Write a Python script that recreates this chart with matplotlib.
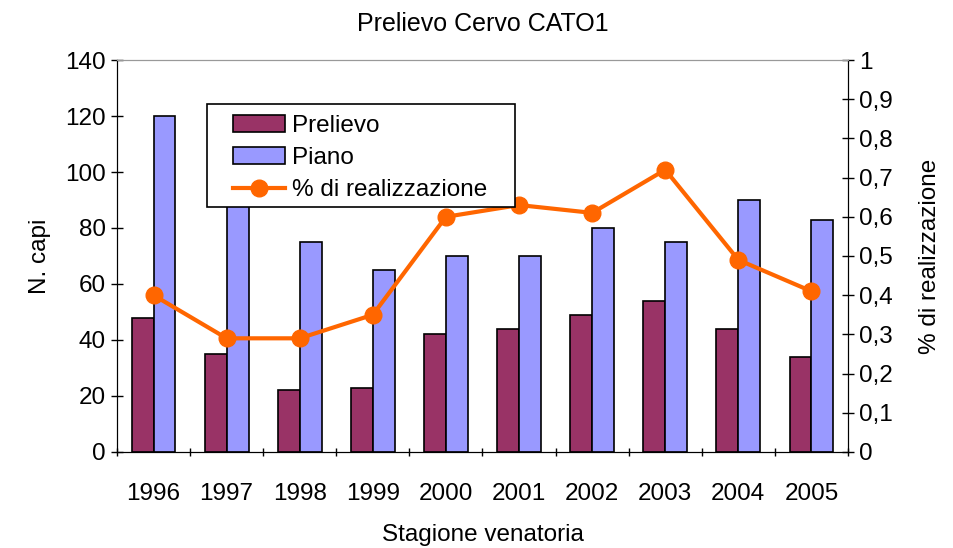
import matplotlib.pyplot as plt
import numpy as np
from matplotlib.patches import Rectangle
from matplotlib.ticker import FuncFormatter, MultipleLocator

plt.rcParams['font.family'] = ['Liberation Sans', 'DejaVu Sans']

# Dati stagioni venatorie
stagioni = ['1996', '1997', '1998', '1999', '2000', '2001', '2002', '2003', '2004', '2005']
prelievo = [48, 35, 22, 23, 42, 44, 49, 54, 44, 34]
piano = [120, 120, 75, 65, 70, 70, 80, 75, 90, 83]
realizzazione = [0.40, 0.29, 0.29, 0.35, 0.60, 0.63, 0.61, 0.72, 0.49, 0.41]

col_prelievo = '#993366'
col_piano = '#9999FF'
col_linea = '#FF6600'
fs = 17.5

fig = plt.figure(figsize=(9.54, 5.48), dpi=100)
ax = fig.add_axes([0.1226, 0.1752, 0.7663, 0.7153])
ax2 = ax.twinx()

x = np.arange(len(stagioni))
w = 0.3
b1 = ax.bar(x - w / 2, prelievo, w, color=col_prelievo, edgecolor='black',
            linewidth=1.2, label='Prelievo', zorder=2)
b2 = ax.bar(x + w / 2, piano, w, color=col_piano, edgecolor='black',
            linewidth=1.2, label='Piano', zorder=2)

l1, = ax2.plot(x, realizzazione, color=col_linea, linewidth=3, marker='o',
               markersize=12, label='% di realizzazione', zorder=3)

# Asse sinistro
ax.set_xlim(-0.5, len(stagioni) - 0.5)
ax.set_ylim(0, 140)
ax.yaxis.set_major_locator(MultipleLocator(20))
ax.set_xticks(x)
ax.set_xticklabels(stagioni)
ax.set_xticks(np.arange(-0.5, len(stagioni)), minor=True)
ax.tick_params(axis='x', which='major', length=0, labelsize=fs, pad=22)
ax.tick_params(axis='x', which='minor', length=6, width=1, direction='inout')
ax.tick_params(axis='y', labelsize=fs, length=8, width=1, direction='inout', pad=4)
ax.set_ylabel('N. capi', fontsize=fs, labelpad=10)
ax.set_xlabel('Stagione venatoria', fontsize=fs, labelpad=14)

# Asse destro
ax2.set_ylim(0, 1)
ax2.yaxis.set_major_locator(MultipleLocator(0.1))
ax2.yaxis.set_major_formatter(FuncFormatter(
    lambda v, p: '0' if abs(v) < 1e-9 else ('1' if abs(v - 1) < 1e-9 else f'{v:.1f}'.replace('.', ','))))
ax2.tick_params(axis='y', labelsize=fs, length=8, width=1, direction='inout', pad=4)
ax2.set_ylabel('% di realizzazione', fontsize=fs, labelpad=19)

for a in (ax, ax2):
    a.spines['top'].set_color('#999999')
    a.spines['left'].set_color('black')
    a.spines['right'].set_color('black')
    a.spines['bottom'].set_color('black')

ax.set_title('Prelievo Cervo CATO1', fontsize=18, pad=21)

# Riquadro della legenda
box = Rectangle((0.123, 0.625), 0.4215, 0.2628, transform=ax2.transAxes,
                facecolor='white', edgecolor='black', linewidth=1.2, zorder=4)
ax2.add_patch(box)

leg = ax2.legend([b1, b2, l1], ['Prelievo', 'Piano', '% di realizzazione'],
                 loc='upper left', bbox_to_anchor=(0.1587, 0.860), fontsize=fs,
                 frameon=False, borderpad=0, labelspacing=0.42, handlelength=2.14,
                 handletextpad=0.3, borderaxespad=0)
leg.set_zorder(5)

fig.savefig('out.png', dpi=100, facecolor='white')
